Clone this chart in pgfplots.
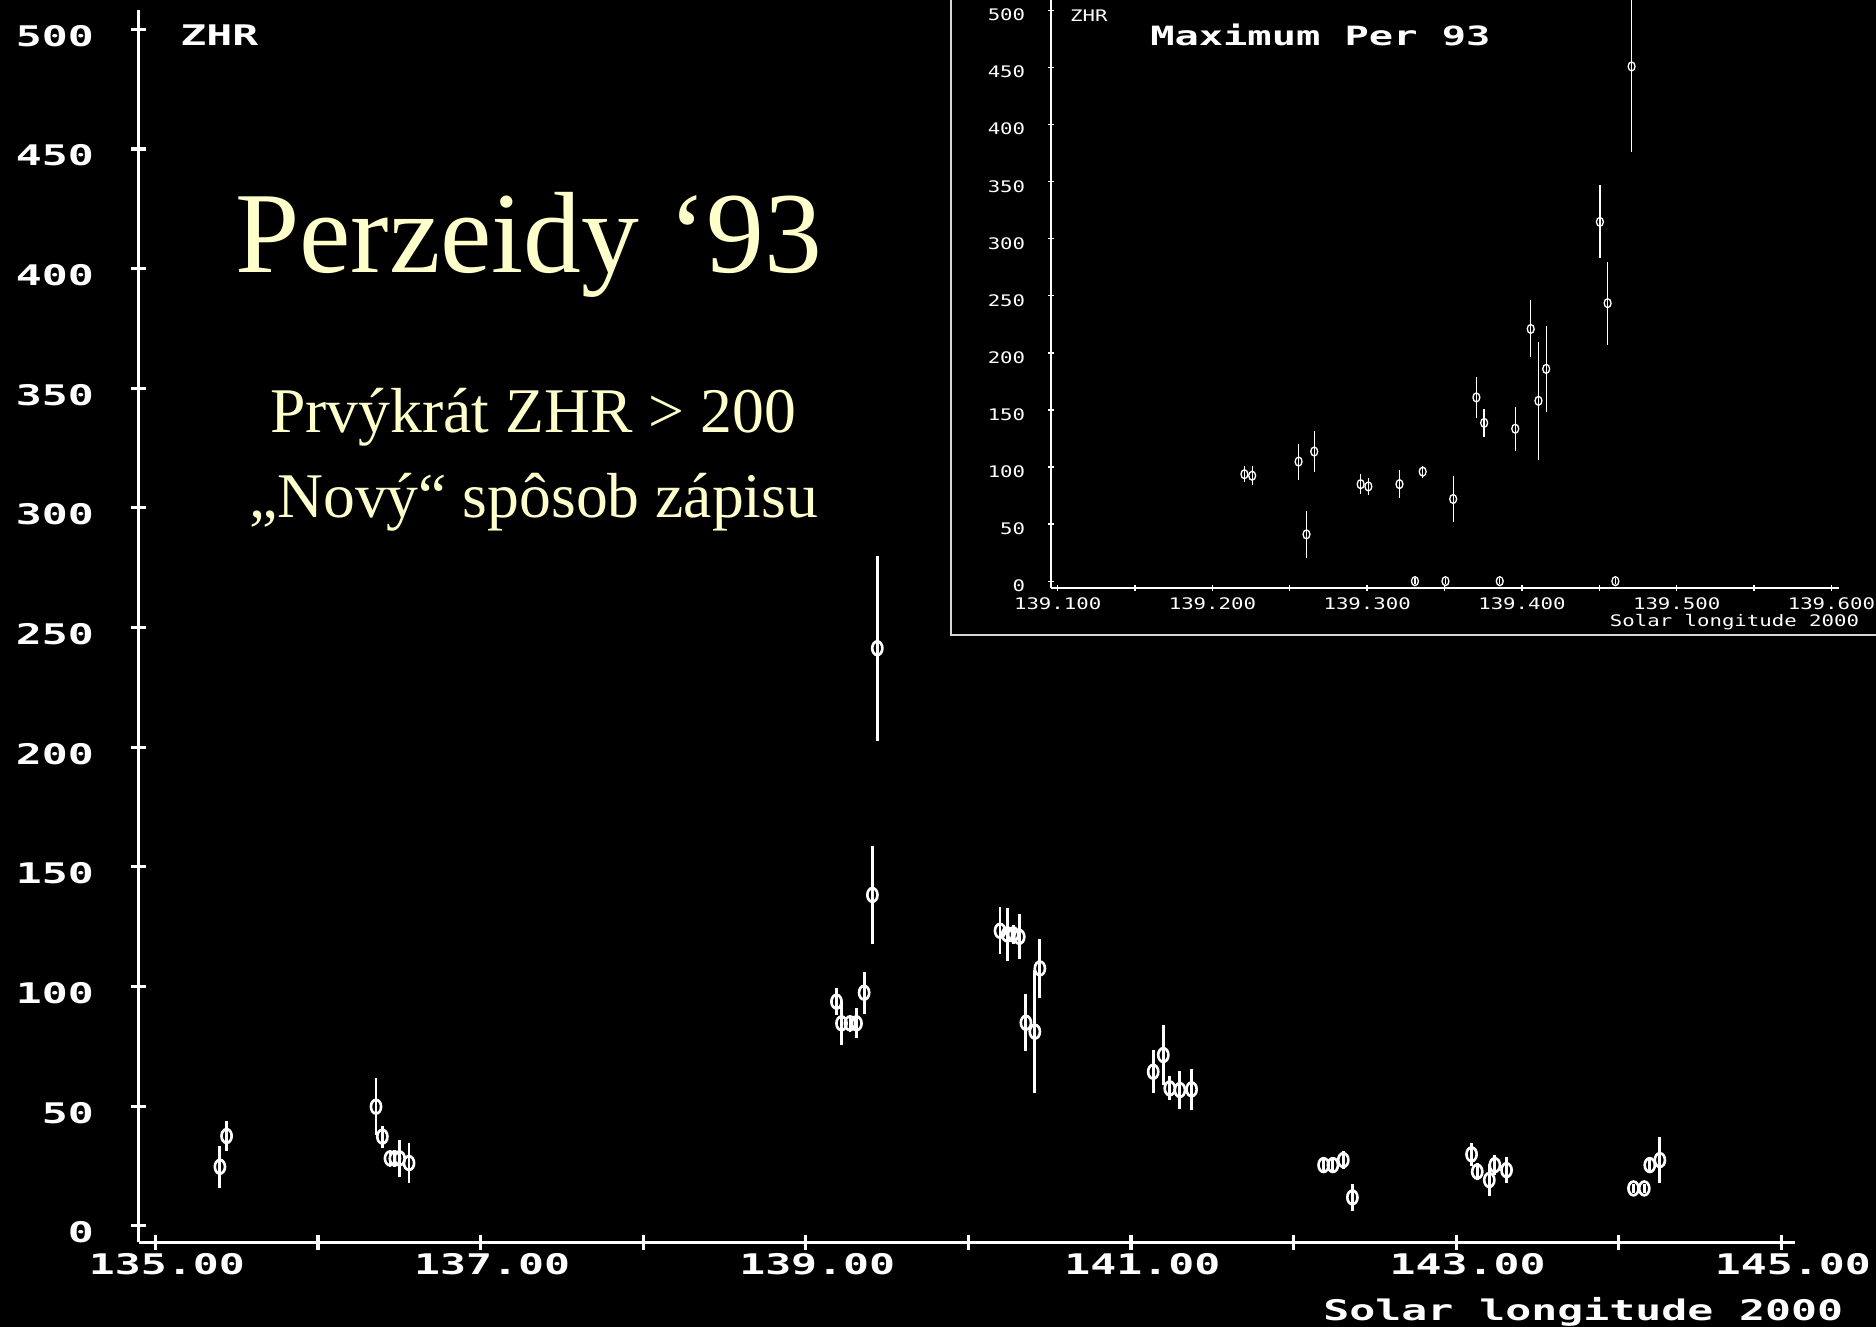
\documentclass[border=0pt]{standalone}
\usepackage{fontspec}
\usepackage{pgfplots}
\usepackage{pgfplotstable}
\pgfplotsset{compat=1.18}
\setmainfont{Liberation Serif}
\newfontfamily\pixb{DejaVu Sans Mono Bold}[FakeStretch=1.52]
\newfontfamily\pixr{DejaVu Sans Mono}[FakeStretch=1.3]
\definecolor{cream}{RGB}{255,255,204}
\definecolor{framegray}{RGB}{215,215,215}

\pgfplotstableread{
x y e
135.397 24.65 8.7
135.438 37.5 6.2
136.357 49.75 12
136.396 37.25 4.6
136.443 28.15 3.5
136.473 28.15 3.5
136.502 28.15 7.7
136.560 26.2 8.5
139.189 93.65 5.5
139.220 84.6 9
139.272 84.6 3.5
139.312 84.6 6.3
139.359 97.4 8.8
139.410 138.25 20.6
139.440 241.35 38.7
140.195 123.25 9.75
140.239 121.75 11
140.276 121.75 4
140.313 120.75 9.4
140.354 84.85 11.8
140.409 81.1 25.7
140.440 107.55 12.4
141.137 64.35 9
141.199 71.35 12.4
141.239 57.4 5
141.301 56.7 8
141.373 57 8.7
142.185 25.35 3.5
142.242 25.35 3.5
142.306 27.45 3.8
142.362 11.85 5.5
143.095 29.85 4.9
143.130 22.6 3.5
143.204 19.1 6.5
143.238 25.35 4.3
143.310 23.25 5.3
144.091 15.6 2
144.157 15.6 2
144.191 25.35 3.5
144.253 27.45 9.5
}\maindata

\pgfplotstableread{
x y e
139.2207 93.7 6.9
139.2257 92.4 8.2
139.2557 104.8 15.8
139.2608 41 20.3
139.2658 113.6 18.2
139.2958 85 8.7
139.3008 83 7.1
139.3209 85 12.3
139.3359 96 5.3
139.3556 72 20
139.3706 161 17.6
139.3756 138.7 12.3
139.3957 133.6 19.4
139.4057 221 25
139.4107 158 51.7
139.4157 186 38
139.4504 314.8 32
139.4554 243.6 36.3
139.4709 451 75
139.3309 0 2.5
139.3506 0 2.5
139.3857 0 2.5
139.4604 0 2.5
}\insetdata

\begin{document}
\begin{tikzpicture}
\useasboundingbox (0,0) rectangle (784pt,554.5pt);
\fill[black] (0,0) rectangle (784pt,554.5pt);

% main chart
\begin{axis}[
  at={(58pt,35.3pt)}, anchor=south west,
  scale only axis, width=692pt, height=515.1pt,
  xmin=134.898, xmax=145.082, ymin=-6.95, ymax=508.15,
  axis x line=bottom, axis y line=left,
  axis line style={white, line width=1.4pt, -},
  xtick={135,136,...,145},
  xticklabels={135.00,,137.00,,139.00,,141.00,,143.00,,145.00},
  ytick={0,50,...,500},
  yticklabels={0,50,100,150,200,250,300,350,400,450,500},
  tick align=center, major tick length=6.4pt,
  tick style={white, line width=1.3pt},
  ticklabel style={white, font=\pixb\fontsize{11.87}{12}\selectfont},
  xticklabel style={xshift=4.8pt, yshift=2pt},
  yticklabel style={yshift=-2.8pt, xshift=-12pt},
  clip=false,
]
\addplot[only marks, white, mark=o, mark size=2.5pt,
  mark options={xscale=0.85, yscale=1.15, line width=1.1pt},
  error bars/.cd, y dir=both, y explicit,
  error bar style={line width=1.2pt, white}, error mark=none]
  table[x=x, y=y, y error=e] {\maindata};
\end{axis}

\node[white, font=\pixb\fontsize{11.87}{12}\selectfont, anchor=west, inner sep=0pt] at (75.15pt,539.6pt) {ZHR};
\node[white, font=\pixb\fontsize{11.87}{12}\selectfont, anchor=east, inner sep=0pt] at (770.5pt,6.3pt) {Solar longitude 2000};

\node[cream, font=\fontsize{48.3}{56}\selectfont, anchor=base, inner sep=0pt] at (221pt,440.7pt) {Perzeidy ‘93};
\node[cream, font=\fontsize{26.6}{32}\selectfont, anchor=base, inner sep=0pt] at (222.75pt,373.9pt) {Prvýkrát ZHR > 200};
\node[cream, font=\fontsize{26.6}{32}\selectfont, anchor=base, inner sep=0pt] at (223pt,338.05pt) {„Nový“ spôsob zápisu};

% inset
\fill[black] (397.35pt,289.1pt) rectangle (800pt,600pt);
\draw[framegray, line width=0.8pt] (397.35pt,600pt) -- (397.35pt,289.1pt) -- (800pt,289.1pt);

\begin{axis}[
  at={(439.25pt,308.85pt)}, anchor=south west,
  scale only axis, width=329.1pt, height=245.65pt,
  xmin=139.09575, xmax=139.60464, ymin=-5.8, ymax=509.2,
  axis x line=bottom, axis y line=left,
  axis line style={white, line width=0.6pt, -},
  xtick={139.10,139.15,139.20,139.25,139.30,139.35,139.40,139.45,139.50,139.55,139.60},
  xticklabels={139.100,,139.200,,139.300,,139.400,,139.500,,139.600},
  ytick={0,50,...,500},
  yticklabels={0,50,100,150,200,250,300,350,400,450,500},
  tick align=center, major tick length=2.6pt,
  tick style={white, line width=0.55pt},
  ticklabel style={white, font=\pixr\fontsize{6.65}{7}\selectfont},
  xticklabel style={yshift=0.8pt},
  yticklabel style={yshift=-1.9pt, xshift=-6pt},
]
\addplot[only marks, white, mark=o, mark size=1.7pt,
  mark options={xscale=0.85, yscale=1.1, line width=0.55pt},
  error bars/.cd, y dir=both, y explicit,
  error bar style={line width=0.55pt, white}, error mark=none]
  table[x=x, y=y, y error=e] {\insetdata};
\end{axis}

\node[white, font=\pixr\fontsize{6.65}{7}\selectfont, anchor=west, inner sep=0pt] at (447pt,548.1pt) {ZHR};
\node[white, font=\pixb\fontsize{11.1}{12}\selectfont, anchor=west, inner sep=0pt] at (480.5pt,540pt) {Maximum Per 93};
\node[white, font=\pixr\fontsize{6.65}{7}\selectfont, anchor=east, inner sep=0pt] at (777.1pt,294.6pt) {Solar longitude 2000};
\end{tikzpicture}
\end{document}
